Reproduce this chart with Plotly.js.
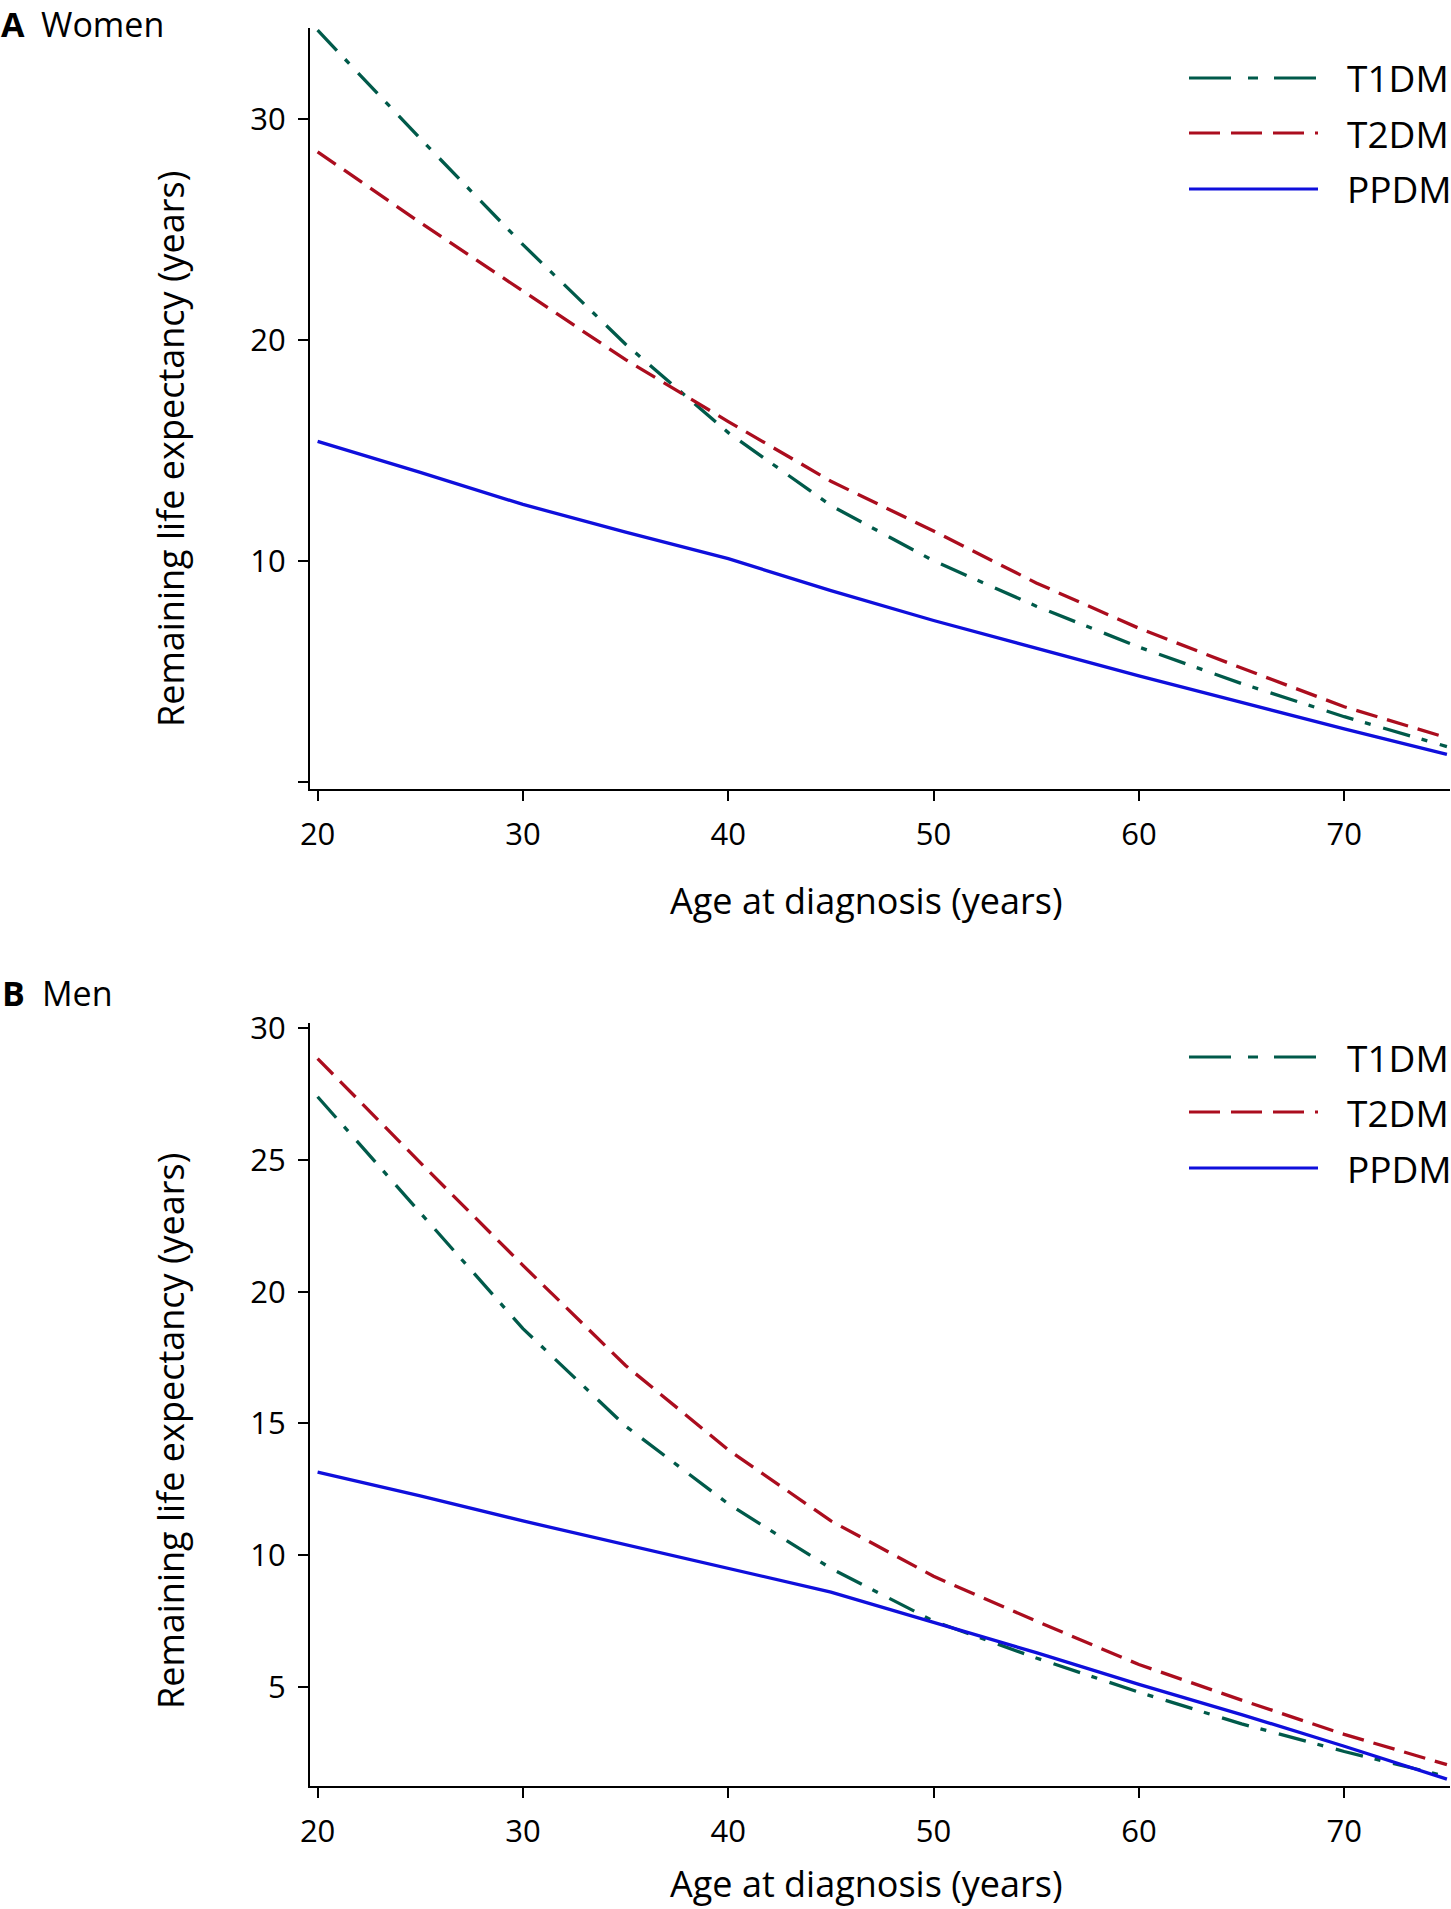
<!DOCTYPE html>
<html>
<head>
<meta charset="utf-8">
<script src="https://cdn.plot.ly/plotly-3.0.1.min.js"></script>
<style>
  body { margin: 0; background: #fff; }
  #chart { width: 1451px; height: 1909px; }
</style>
</head>
<body>
<div id="chart"></div>
<script>
/* Remaining life expectancy by age at diagnosis, women (A) and men (B) */

// age at diagnosis (years)
var ages = [20, 25, 30, 35, 40, 45, 50, 55, 60, 65, 70, 75];

// panel A - women
var womenT1DM = [34.0, 29.1, 24.3, 19.8, 15.8, 12.5, 10.0, 7.95, 6.1, 4.45, 2.95, 1.6];
var womenT2DM = [28.5, 25.3, 22.2, 19.1, 16.3, 13.6, 11.35, 9.0, 6.95, 5.15, 3.4, 2.0];
var womenPPDM = [15.4, 14.0, 12.55, 11.3, 10.1, 8.65, 7.3, 6.05, 4.8, 3.6, 2.4, 1.25];

// panel B - men
var menT1DM = [27.4, 23.0, 18.6, 14.9, 11.95, 9.5, 7.5, 6.1, 4.8, 3.6, 2.55, 1.6];
var menT2DM = [28.85, 24.9, 21.0, 17.2, 14.0, 11.3, 9.2, 7.5, 5.85, 4.5, 3.2, 2.05];
var menPPDM = [13.15, 12.25, 11.3, 10.4, 9.5, 8.6, 7.45, 6.3, 5.1, 3.95, 2.75, 1.5];

// axis ticks
var xTicks = [20, 30, 40, 50, 60, 70];
var yTicksA = [0, 10, 20, 30];
var yTickTextA = ['', '10', '20', '30'];
var yTicksB = [5, 10, 15, 20, 25, 30];

var seriesNames = ['T1DM', 'T2DM', 'PPDM'];

/******************************** STYLE ********************************/
var W = 1451, H = 1909;
var FONT = 'Open Sans, Noto Sans, sans-serif';
var colors = { T1DM: '#005a4a', T2DM: '#ab0d1e', PPDM: '#0f0fdc' };
var dashes = { T1DM: '28px,12px,6px,13px', T2DM: '22px,10px', PPDM: 'solid' };
var legendDashes = { T1DM: '42px,17px,10px,16px', T2DM: '31px,11px', PPDM: 'solid' };

//convert pixel position on the page into paper coordinates
function px(x) { return x / W; }
function py(y) { return 1 - y / H; }

function makeTrace(name, yvals, xa, ya) {
  return {
    x: ages,
    y: yvals,
    xaxis: xa,
    yaxis: ya,
    type: 'scatter',
    mode: 'lines',
    name: name,
    showlegend: false,
    line: { color: colors[name], width: 3.3, dash: dashes[name] }
  };
}

var data = [
  makeTrace('T1DM', womenT1DM, 'x', 'y'),
  makeTrace('T2DM', womenT2DM, 'x', 'y'),
  makeTrace('PPDM', womenPPDM, 'x', 'y'),
  makeTrace('T1DM', menT1DM, 'x2', 'y2'),
  makeTrace('T2DM', menT2DM, 'x2', 'y2'),
  makeTrace('PPDM', menPPDM, 'x2', 'y2')
];

function baseAxis() {
  return {
    showline: true,
    linecolor: '#000',
    linewidth: 2,
    ticks: 'outside',
    ticklen: 10,
    tickwidth: 2,
    tickcolor: '#000',
    showgrid: false,
    zeroline: false,
    tickfont: { family: FONT, size: 31, color: '#000' }
  };
}

var xA = baseAxis();
xA.domain = [px(310), px(1450)];
xA.range = [19.63, 75.15];
xA.tickvals = xTicks;
xA.anchor = 'y';
xA.ticklabelstandoff = 7;

var xB = baseAxis();
xB.domain = [px(310), px(1450)];
xB.range = [19.63, 75.15];
xB.tickvals = xTicks;
xB.anchor = 'y2';
xB.ticklabelstandoff = 7;

var yA = baseAxis();
yA.domain = [py(789), py(28)];
yA.range = [-0.32, 34.1];
yA.tickvals = yTicksA;
yA.ticktext = yTickTextA;
yA.anchor = 'x';
yA.ticklabelstandoff = 6;

var yB = baseAxis();
yB.domain = [py(1786), py(1023)];
yB.range = [1.24, 30.2];
yB.tickvals = yTicksB;
yB.anchor = 'x2';
yB.ticklabelstandoff = 6;

/***************************** TEXT + LEGEND *****************************/
var annotations = [];
var shapes = [];

function addText(text, x, y, size, opts) {
  var a = {
    text: text, xref: 'paper', yref: 'paper',
    x: px(x), y: py(y), showarrow: false,
    xanchor: 'left', yanchor: 'middle',
    font: { family: FONT, size: size, color: '#000' }
  };
  for (var k in opts) a[k] = opts[k];
  annotations.push(a);
}

//panel labels (A sits at the very top of the page)
addText('<b>A</b>', 0, 0, 34, { yanchor: 'top', borderpad: 0 });
addText('Women', 40, 0, 34, { yanchor: 'top', borderpad: 0 });
addText('<b>B</b>', 0, 993, 34);
addText('Men', 40, 993, 34);

//axis titles
addText('Remaining life expectancy (years)', 170, 449, 36, { textangle: -90, xanchor: 'center' });
addText('Remaining life expectancy (years)', 170, 1431, 36, { textangle: -90, xanchor: 'center' });
addText('Age at diagnosis (years)', 866, 900, 36, { xanchor: 'center' });
addText('Age at diagnosis (years)', 866, 1883, 36, { xanchor: 'center' });

//legend rows for each panel
var legendRowsA = [78, 133, 189];
var legendRowsB = [1057, 1112, 1168];
[legendRowsA, legendRowsB].forEach(function (rows) {
  for (var i = 0; i < seriesNames.length; i++) {
    var name = seriesNames[i];
    shapes.push({
      type: 'line', xref: 'paper', yref: 'paper',
      x0: px(1189), x1: px(1318), y0: py(rows[i]), y1: py(rows[i]),
      line: { color: colors[name], width: 3, dash: legendDashes[name] }
    });
    addText(name, 1345, rows[i], 37);
  }
});

var layout = {
  width: W,
  height: H,
  margin: { l: 0, r: 0, t: 0, b: 0 },
  paper_bgcolor: '#fff',
  plot_bgcolor: '#fff',
  showlegend: false,
  xaxis: xA,
  yaxis: yA,
  xaxis2: xB,
  yaxis2: yB,
  annotations: annotations,
  shapes: shapes
};

Plotly.newPlot('chart', data, layout, { staticPlot: true });
</script>
</body>
</html>
